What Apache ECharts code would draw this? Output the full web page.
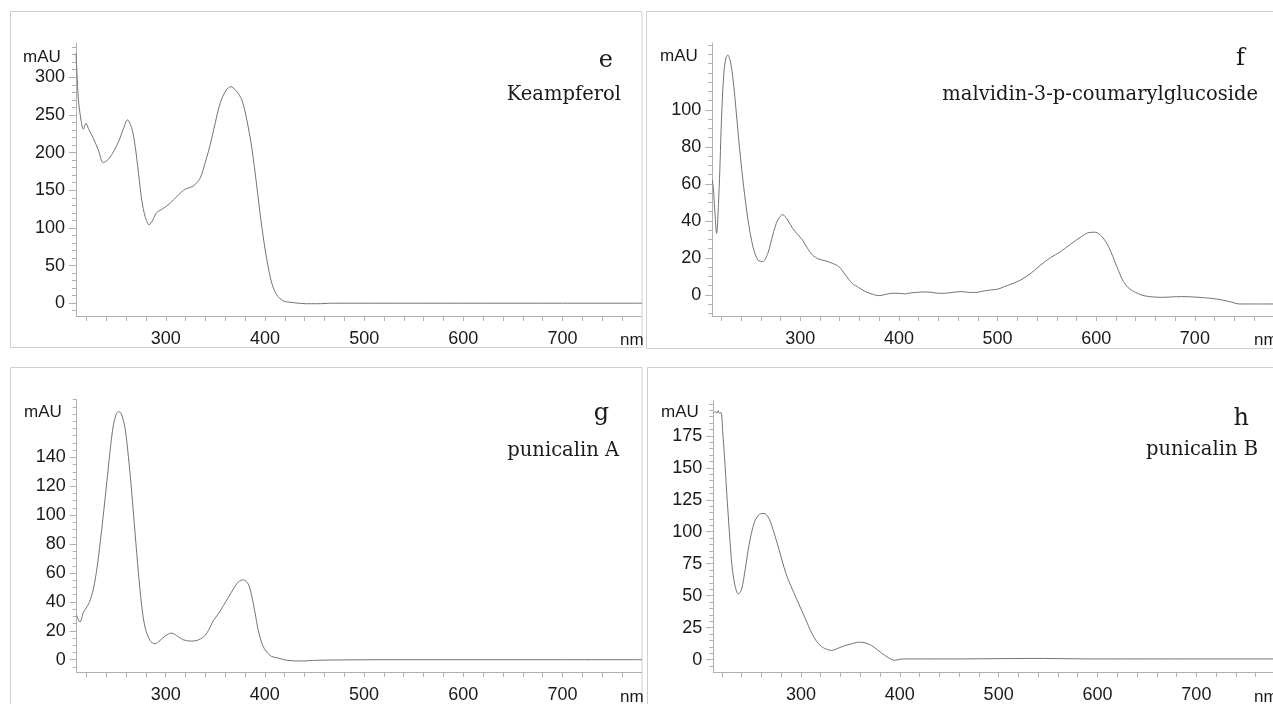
<!DOCTYPE html>
<html><head><meta charset="utf-8">
<script src="https://cdn.jsdelivr.net/npm/echarts@6/dist/echarts.min.js"></script>
<style>html,body{margin:0;padding:0;background:#fff}#c{width:1273px;height:704px}</style>
</head><body><div id="c"></div>
<script>
// ---- data (wavelength nm, absorbance mAU) ----
const keampferol = [[209.5,332],[210.5,305],[211.9,270],[214.6,243],[216.9,231],[219.6,239],[222,232],[227,219],[232,203.5],[237,186.5],[242,191],[247.3,201],[252.4,214.5],[257.4,232],[261.4,243.5],[265.8,232],[269.2,208],[272.5,172.6],[275.8,137],[279.2,115],[283.2,104],[286.9,110.6],[290.9,120.3],[297.6,126],[304.4,132.7],[312.8,143.8],[319.5,151.3],[327.9,155.7],[334.6,166],[339.7,186.5],[344.7,210],[349.8,239],[354.8,265.5],[360.9,283],[365.6,287.5],[371,282],[376.7,270],[381.7,243.3],[386.8,205.8],[391.8,154.8],[396.8,101.7],[401.9,57.5],[406.9,26.5],[411.9,11],[418.6,3],[427,1],[442,-0.7],[452,-0.7],[469,0],[520,0],[600,0],[700,0],[780,0]];
const malvidin = [[211,62.2],[211.2,60],[211.8,58.5],[213.5,44],[215.1,33.3],[217.8,58.5],[220.2,96.4],[222.5,119.8],[224.5,128],[226.5,129.7],[229.2,126],[231.9,116.2],[235.2,98.2],[238.6,78.4],[242.6,58.5],[247,40.5],[252,26.1],[257,18.9],[262,18],[267.1,22.5],[272.1,32.4],[277.1,40.5],[282.2,43.4],[287.2,40.5],[292.2,36],[297.2,32.8],[302.2,29.7],[307.3,25.2],[312.3,21.6],[319,19.3],[325.7,18.4],[332.4,17.1],[339.1,15.3],[345.8,10.8],[352.5,6.3],[359.2,4],[365.9,1.8],[372.6,0.5],[379.4,-0.4],[386.1,0.2],[392.8,0.9],[399.5,0.9],[406.2,0.5],[409.6,0.9],[416.3,1.3],[424.7,1.6],[433,1.4],[439.8,0.9],[446.5,0.9],[454.9,1.4],[463.3,1.8],[470,1.4],[476.7,1.3],[486.8,2.2],[493.5,2.7],[500.2,3.1],[506.9,4.5],[513.6,5.8],[523.6,8.1],[533.7,11.7],[543.8,16.2],[553.8,20.2],[563.9,23.4],[573.9,27.4],[584,31.2],[592.4,33.7],[599.1,33.9],[605.8,31.5],[612.5,26.1],[620.9,15.3],[627.6,7.2],[634.3,3.1],[645.7,0],[653.8,-0.9],[666,-1.3],[686.3,-0.9],[706.6,-1.4],[722.9,-2.3],[735.1,-3.6],[745.3,-4.9],[759.5,-4.9],[780,-4.9]];
const punicalinA = [[210.3,30.5],[213.7,26],[217,32.8],[219.7,35.6],[223.1,39.7],[227.1,48.9],[231.1,65],[235.5,90.2],[239.9,117.8],[243.9,144.2],[247.3,162.5],[250.6,170.6],[253,171.7],[255.7,169.4],[259,160.3],[262.4,140.7],[265.8,115.5],[269.1,87.9],[272.5,60.4],[275.8,37.4],[279.2,22.5],[284.2,13.3],[289.3,11],[294.3,13.3],[300,16.7],[306.1,18.4],[311.1,16.7],[317.8,13.8],[324.6,12.9],[331.3,13.3],[338,15.6],[343.1,20.2],[348.1,27.1],[353.1,31.7],[358.2,37.4],[363.2,43.2],[368.2,48.9],[373.3,53.9],[378.3,55.3],[383.3,52.3],[386.7,44.3],[390,32.8],[393.4,20.2],[397.8,9.9],[401.8,5.3],[406.8,2.3],[413.6,1.1],[422,-0.4],[435.4,-0.9],[452.2,-0.4],[469,-0.2],[520,0],[600,0],[700,0],[780,0]];
const punicalinB = [[211.6,192.6],[213.6,193.9],[215,192.6],[216.3,194.6],[217.7,192.6],[219.3,193.1],[221,177],[222.7,158.9],[225,130.4],[227.7,99.3],[230.3,73.3],[233.4,57.8],[236.7,51.3],[240.1,55.2],[243.7,70.8],[247.7,90.2],[252.8,107.1],[257.8,113.5],[262.8,114.3],[267.8,110.2],[272.8,99.3],[277.8,86.3],[284.5,68.2],[291.2,55.2],[297.9,43.5],[304.6,31.9],[311.3,20.2],[317.9,12.4],[324.6,8.6],[331.3,7.3],[338,9.1],[344.7,11.1],[351.4,12.4],[358.1,13.7],[364.8,13.2],[371.4,11.1],[378.1,7.3],[384.8,3.4],[391.5,0.3],[394.8,-0.5],[399.8,0.3],[404.8,0.6],[450,0.6],[538,1],[600,0.6],[700,0.6],[780,0.6]];

// ---- tick labels ----
const xLabels = [300,400,500,600,700];
const xMinor = [220,240,260,280,300,320,340,360,380,400,420,440,460,480,500,520,540,560,580,600,620,640,660,680,700,720,740,760];
const eYLabels = [0,50,100,150,200,250,300];
const fYLabels = [0,20,40,60,80,100];
const gYLabels = [0,20,40,60,80,100,120,140];
const hYLabels = [0,25,50,75,100,125,150,175];

function steps(a,b,s){const r=[];for(let v=a;v<=b+1e-9;v+=s)r.push(v);return r;}

const panels = [
  {data:keampferol, left:76, top:43, w:565, h:273, xMin:209.5, xMax:779.1, yMin:-17, yMax:345.5, yl:eYLabels, ym:steps(-10,340,10),
   letter:'e', lx:613, ly:61, name:'Keampferol', nx:621, ny:95, mx:23, my:57, nmx:620, nmy:340},
  {data:malvidin, left:712.3, top:43, w:565, h:273, xMin:210.8, xMax:779.2, yMin:-11.4, yMax:136.2, yl:fYLabels, ym:steps(-10,135,5),
   letter:'f', lx:1245, ly:59, name:'malvidin-3-p-coumarylglucoside', nx:1258, ny:95, mx:660, my:56, nmx:1254, nmy:340},
  {data:punicalinA, left:76.7, top:399.3, w:565, h:274, xMin:210.3, xMax:779.9, yMin:-8.5, yMax:180.2, yl:gYLabels, ym:steps(-5,180,5),
   letter:'g', lx:609, ly:414, name:'punicalin A', nx:619, ny:451, mx:24, my:412, nmx:620, nmy:697},
  {data:punicalinB, left:713.3, top:400.7, w:565, h:272.6, xMin:211.4, xMax:777.5, yMin:-9.6, yMax:202.4, yl:hYLabels, ym:steps(-5,200,5),
   letter:'h', lx:1249, ly:419, name:'punicalin B', nx:1258, ny:450, mx:661, my:412, nmx:1254, nmy:697}
];

const axisColor = '#b0b0b0';
const textColor = '#1a1a1a';
const grids=[], xAxes=[], yAxes=[], series=[];
const graphics = [
  {type:'rect', shape:{x:10.5,y:11.5,width:631.5,height:336}, style:{fill:'none',stroke:'#cfcfcf',lineWidth:1}, z:-1},
  {type:'rect', shape:{x:646.5,y:11.5,width:700,height:337}, style:{fill:'none',stroke:'#cfcfcf',lineWidth:1}, z:-1},
  {type:'rect', shape:{x:10.5,y:367.5,width:631.5,height:400}, style:{fill:'none',stroke:'#cfcfcf',lineWidth:1}, z:-1},
  {type:'rect', shape:{x:647.5,y:367.5,width:700,height:400}, style:{fill:'none',stroke:'#cfcfcf',lineWidth:1}, z:-1}
];
function txt(x,y,s,font,align){
  return {type:'text', x:x, y:y, z:10, style:{text:s, font:font, fill:textColor, align:align, verticalAlign:'middle', textAlign:align, textVerticalAlign:'middle'}};
}
panels.forEach((p,i)=>{
  grids.push({left:p.left, top:p.top, width:p.w, height:p.h});
  xAxes.push({type:'value', gridIndex:i, min:p.xMin, max:p.xMax, position:'bottom',
    axisLine:{show:true, onZero:false, lineStyle:{color:axisColor,width:1}},
    axisTick:{show:true, customValues:xMinor, length:5, lineStyle:{color:axisColor,width:1}},
    axisLabel:{show:true, customValues:xLabels, margin:14, color:textColor, fontFamily:'Liberation Sans', fontSize:18},
    splitLine:{show:false}});
  yAxes.push({type:'value', gridIndex:i, min:p.yMin, max:p.yMax, position:'left',
    axisLine:{show:true, onZero:false, lineStyle:{color:axisColor,width:1}},
    axisTick:{show:true, customValues:p.yl, length:7, lineStyle:{color:axisColor,width:1}},
    axisLabel:{show:true, customValues:p.yl, margin:11, color:textColor, fontFamily:'Liberation Sans', fontSize:18},
    splitLine:{show:false}});
  yAxes.push({type:'value', gridIndex:i, min:p.yMin, max:p.yMax, position:'left', offset:0,
    axisLine:{show:false},
    axisTick:{show:true, customValues:p.ym, length:4, lineStyle:{color:axisColor,width:1}},
    axisLabel:{show:false}, splitLine:{show:false}});
  series.push({type:'line', xAxisIndex:i, yAxisIndex:2*i, data:p.data, showSymbol:false, smooth:0.3,
    lineStyle:{color:'#737373', width:1}, silent:true, clip:true});
  graphics.push(txt(p.lx,p.ly,p.letter,'24px "DejaVu Serif"','right'));
  graphics.push(txt(p.nx,p.ny,p.name,'19.5px "DejaVu Serif"','right'));
  graphics.push(txt(p.mx,p.my,'mAU','17px "Liberation Sans"','left'));
  graphics.push(txt(p.nmx,p.nmy,'nm','17px "Liberation Sans"','left'));
});

const chart = echarts.init(document.getElementById('c'), null, {renderer:'canvas'});
chart.setOption({animation:false, backgroundColor:'#fff', grid:grids, xAxis:xAxes, yAxis:yAxes, series:series, graphic:{elements:graphics}});
</script></body></html>
